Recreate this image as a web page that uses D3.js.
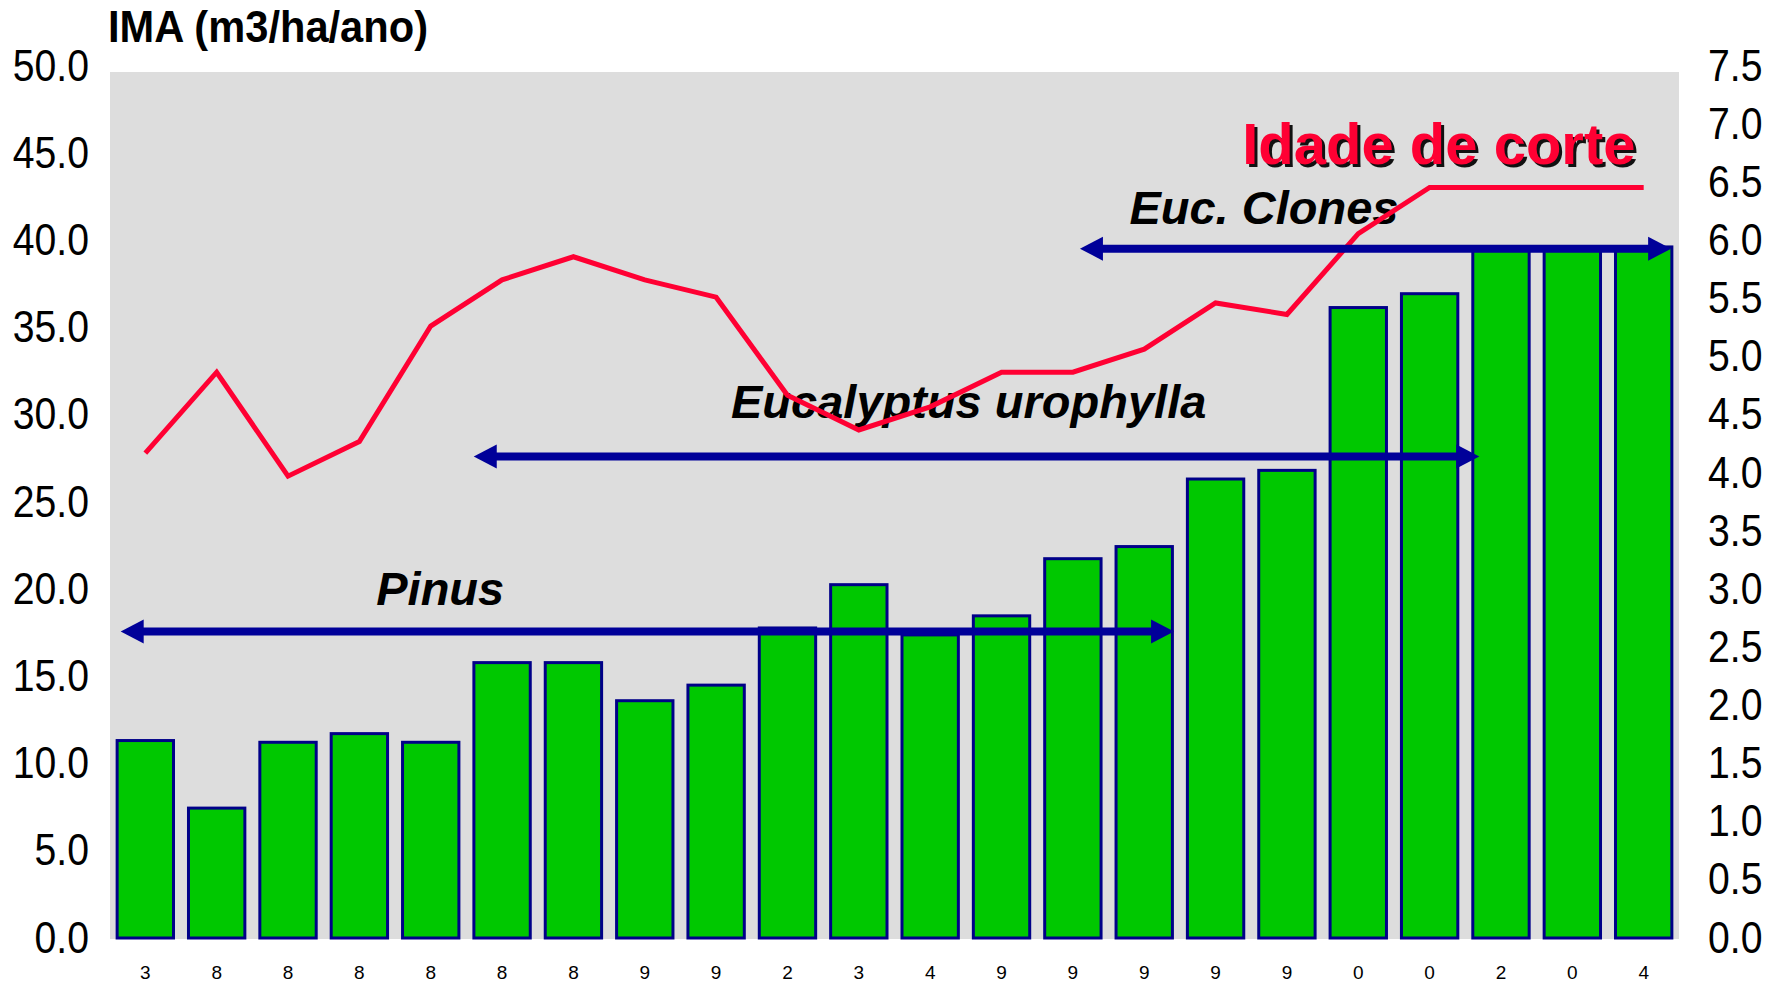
<!doctype html>
<html lang="en">
<head>
<meta charset="utf-8">
<title>IMA x Idade de corte</title>
<script src="https://cdn.jsdelivr.net/npm/d3@7"></script>
<style>
  body { margin: 0; background: #fff; }
  svg { display: block; font-family: "Liberation Sans", Arial, sans-serif; }
</style>
</head>
<body>
<script>

// last digit of the year under each bar
var yearLabels = ["3","8","8","8","8","8","8","9","9","2","3","4","9","9","9","9","9","0","0","2","0","4"];

// IMA (m3/ha/ano), left axis
var imaValues = [11.4, 7.5, 11.3, 11.8, 11.3, 15.9, 15.9, 13.7, 14.6, 17.9, 20.4,
                 17.5, 18.6, 21.9, 22.6, 26.5, 27.0, 36.4, 37.2, 39.9, 39.9, 39.9];

// idade de corte (anos), right axis
var cutAge = [4.2, 4.9, 4.0, 4.3, 5.3, 5.7, 5.9, 5.7, 5.55, 4.7, 4.4,
              4.6, 4.9, 4.9, 5.1, 5.5, 5.4, 6.1, 6.5, 6.5, 6.5, 6.5];

var leftTicks  = [0, 5, 10, 15, 20, 25, 30, 35, 40, 45, 50];
var rightTicks = [0, 0.5, 1, 1.5, 2, 2.5, 3, 3.5, 4, 4.5, 5, 5.5, 6, 6.5, 7, 7.5];

// species groups: span in category slots, level on the left axis
var groupNames = ["Pinus", "Eucalyptus urophylla", "Euc. Clones"];
var groupFrom  = [0.15, 5.1, 13.6];
var groupTo    = [14.92, 19.2, 21.89];
var groupLevel = [17.7, 27.8, 39.8];
var groupTextSlot  = [4.63, 12.04, 16.18];
var groupTextLevel = [19.2, 30.0, 41.25];

var width = 1781, height = 985;
var margin = {top: 72, right: 102, bottom: 46, left: 110};
var plotW = width - margin.left - margin.right,
    plotH = height - margin.top - margin.bottom - 1;

var svg = d3.select("body")
    .append("svg")
    .attr("width", width)
    .attr("height", height);

var chart = svg.append("g")
    .attr("transform", "translate(" + margin.left + "," + margin.top + ")");

var idx = d3.range(imaValues.length);

var x = d3.scaleBand()
    .domain(idx)
    .range([0, plotW])
    .paddingInner(0.21)
    .paddingOuter(0.1);

// continuous slot scale for the annotation arrows
var slot = d3.scaleLinear()
    .domain([0, imaValues.length])
    .range([0, plotW]);

var y = d3.scaleLinear()
    .domain([0, 50])
    .range([plotH, 0]);

var y2 = d3.scaleLinear()
    .domain([0, 7.5])
    .range([plotH, 0]);

// the tick labels in the original sit a little higher toward the top
var yLab = y.copy().range([plotH, -6]);
var y2Lab = y2.copy().range([plotH, -6]);

chart.append("rect")
    .attr("x", 0)
    .attr("y", 0)
    .attr("width", plotW)
    .attr("height", plotH + 1)
    .attr("fill", "#dddddd");

chart.selectAll(".bar")
    .data(imaValues)
    .enter()
    .append("rect")
    .attr("class", "bar")
    .attr("x", function(d, i){ return x(i); })
    .attr("y", function(d){ return y(d); })
    .attr("width", x.bandwidth())
    .attr("height", function(d){ return plotH - y(d); })
    .attr("fill", "#00c800")
    .attr("stroke", "#000088")
    .attr("stroke-width", 3);

// group names
chart.selectAll(".group-label")
    .data(groupNames)
    .enter()
    .append("text")
    .attr("class", "group-label")
    .attr("x", function(d, i){ return slot(groupTextSlot[i]); })
    .attr("y", function(d, i){ return y(groupTextLevel[i]); })
    .attr("text-anchor", "middle")
    .attr("font-size", 47)
    .attr("font-weight", "bold")
    .attr("font-style", "italic")
    .attr("fill", "#000")
    .text(function(d){ return d; });

// cut age line
var line = d3.line()
    .x(function(d, i){ return x(i) + x.bandwidth() / 2; })
    .y(function(d){ return y2(d); });

chart.append("path")
    .datum(cutAge)
    .attr("d", line)
    .attr("fill", "none")
    .attr("stroke", "#ff0033")
    .attr("stroke-width", 5);

// double headed arrows
var headLen = 23, headHalf = 12;
groupNames.forEach(function(name, i){
    var x0 = slot(groupFrom[i]), x1 = slot(groupTo[i]), yy = y(groupLevel[i]);
    chart.append("line")
        .attr("x1", x0 + headLen - 2)
        .attr("x2", x1 - headLen + 2)
        .attr("y1", yy)
        .attr("y2", yy)
        .attr("stroke", "#000099")
        .attr("stroke-width", 8);
    chart.append("path")
        .attr("d", "M" + x0 + "," + yy + "L" + (x0 + headLen) + "," + (yy - headHalf) +
                   "L" + (x0 + headLen) + "," + (yy + headHalf) + "Z")
        .attr("fill", "#000099");
    chart.append("path")
        .attr("d", "M" + x1 + "," + yy + "L" + (x1 - headLen) + "," + (yy - headHalf) +
                   "L" + (x1 - headLen) + "," + (yy + headHalf) + "Z")
        .attr("fill", "#000099");
});

// "Idade de corte" with its shadow
var idadeSlot = 21.39, idadeLevel = 6.7;
chart.append("text")
    .attr("x", slot(idadeSlot) + 3)
    .attr("y", y2(idadeLevel) + 3)
    .attr("text-anchor", "end")
    .attr("font-size", 58)
    .attr("font-weight", "bold")
    .attr("fill", "#111")
    .text("Idade de corte");
chart.append("text")
    .attr("x", slot(idadeSlot))
    .attr("y", y2(idadeLevel))
    .attr("text-anchor", "end")
    .attr("font-size", 58)
    .attr("font-weight", "bold")
    .attr("fill", "#ff0033")
    .text("Idade de corte");

// axes
var fmt = d3.format(".1f");

var leftAxis = chart.append("g")
    .call(d3.axisLeft(yLab).tickValues(leftTicks).tickFormat(fmt).tickSize(0));

var rightAxis = chart.append("g")
    .attr("transform", "translate(" + plotW + ",0)")
    .call(d3.axisRight(y2Lab).tickValues(rightTicks).tickFormat(fmt).tickSize(0));

var bottomAxis = chart.append("g")
    .attr("transform", "translate(0," + (plotH + 1) + ")")
    .call(d3.axisBottom(x).tickFormat(function(i){ return yearLabels[i]; }).tickSize(0).tickPadding(27));

// narrow-looking tick labels
leftAxis.select(".domain").remove();
leftAxis.selectAll("text")
    .attr("x", 0)
    .attr("transform", "translate(-21,0) scale(0.89,1)");
rightAxis.select(".domain").remove();
rightAxis.selectAll("text")
    .attr("x", 0)
    .attr("transform", "translate(29,0) scale(0.89,1)");

[leftAxis, rightAxis].forEach(function(g){
    g.selectAll("text")
        .attr("font-family", "Liberation Sans, Arial, sans-serif")
        .attr("font-size", 44)
        .attr("fill", "#000");
});
bottomAxis.select(".domain").remove();
bottomAxis.selectAll("text")
    .attr("font-family", "Liberation Sans, Arial, sans-serif")
    .attr("font-size", 19)
    .attr("fill", "#000");

// axis title
svg.append("text")
    .attr("x", 108)
    .attr("y", 42)
    .attr("font-size", 45)
    .attr("font-weight", "bold")
    .attr("fill", "#000")
    .attr("textLength", 320)
    .attr("lengthAdjust", "spacingAndGlyphs")
    .text("IMA (m3/ha/ano)");

</script>
</body>
</html>
